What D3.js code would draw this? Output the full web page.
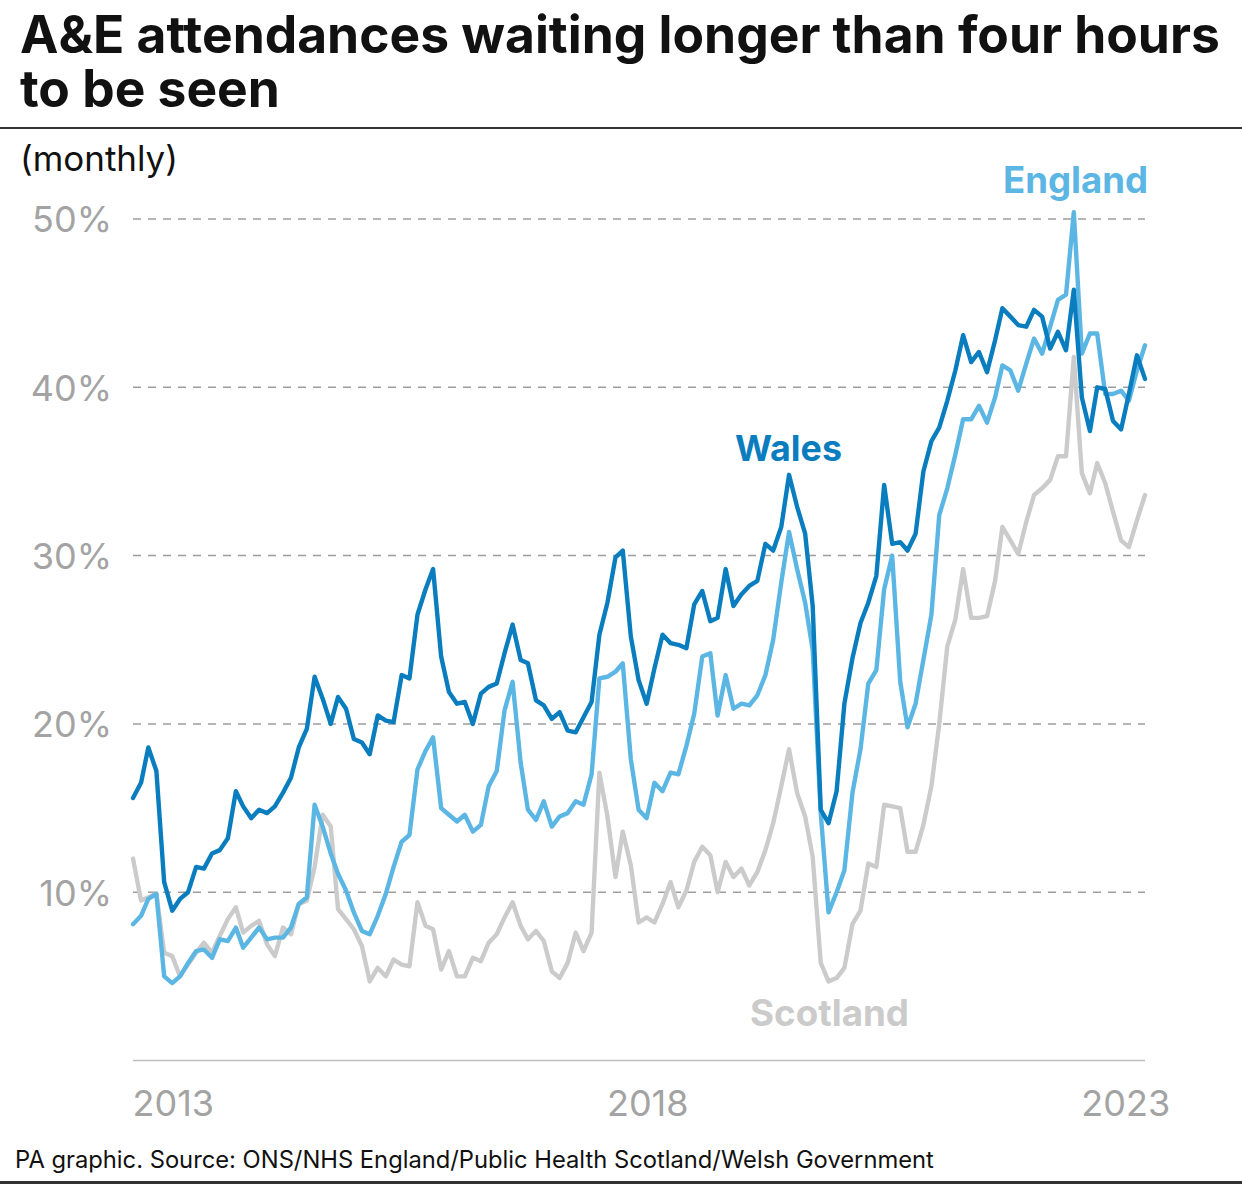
<!DOCTYPE html>
<html><head><meta charset="utf-8">
<script src="https://cdn.jsdelivr.net/npm/d3@7"></script>
<style>body{margin:0;background:#fff} svg{display:block}</style>
</head><body>
<svg id="c" width="1242" height="1188"></svg>
<script>
// Monthly series, Jan 2013 .. Sep 2023 (% of attendances waiting longer than four hours)
const startMonth = [2013, 0];
const wales = [
 15.6,16.5,18.6,17.2,10.6,8.9,9.6,10.0,11.5,11.4,12.3,12.5,
 13.2,16.0,15.1,14.4,14.9,14.7,15.1,15.9,16.8,18.6,19.7,22.8,
 21.5,20.0,21.6,20.9,19.1,18.9,18.2,20.5,20.2,20.1,22.9,22.7,
 26.5,28.0,29.2,24.0,21.9,21.2,21.3,20.0,21.8,22.2,22.4,24.2,
 25.9,23.8,23.6,21.4,21.1,20.3,20.7,19.6,19.5,20.4,21.3,25.3,
 27.2,29.9,30.3,25.2,22.6,21.2,23.3,25.3,24.8,24.7,24.5,27.1,
 27.9,26.1,26.3,29.2,27.0,27.7,28.2,28.5,30.7,30.3,31.7,34.8,
 32.9,31.3,27.0,14.9,14.1,16.0,21.2,23.9,26.0,27.2,28.8,34.2,
 30.7,30.8,30.3,31.3,35.0,36.8,37.6,39.2,41.0,43.1,41.5,42.1,
 40.9,42.8,44.7,44.2,43.7,43.6,44.6,44.2,42.3,43.3,42.2,45.8,
 39.4,37.4,40.0,39.9,38.0,37.5,39.6,41.9,40.5
];
const england = [
 8.1,8.6,9.6,9.9,5.0,4.6,5.0,5.8,6.5,6.6,6.1,7.2,
 7.1,7.9,6.7,7.3,7.9,7.2,7.3,7.3,7.9,9.3,9.7,15.2,
 13.9,12.3,11.1,10.1,8.8,7.7,7.5,8.6,9.9,11.5,13.0,13.4,
 17.3,18.4,19.2,15.0,14.6,14.2,14.6,13.6,14.0,16.3,17.2,20.8,
 22.5,17.7,14.9,14.3,15.4,13.9,14.5,14.7,15.4,15.2,17.0,22.7,
 22.8,23.1,23.6,17.9,14.9,14.4,16.5,16.0,17.1,17.0,18.7,20.6,
 24.0,24.2,20.5,22.9,20.9,21.2,21.1,21.7,22.9,25.0,28.4,31.4,
 29.2,27.2,24.4,14.7,8.8,10.0,11.3,15.9,18.5,22.4,23.2,28.0,
 30.0,22.5,19.8,21.2,23.8,26.5,32.4,34.0,36.0,38.1,38.1,38.9,
 37.9,39.4,41.3,41.0,39.8,41.4,42.9,42.0,43.6,45.2,45.5,50.4,
 42.0,43.2,43.2,39.6,39.6,39.8,39.2,41.0,42.5
];
const scotland = [
 12.0,9.5,9.7,9.9,6.4,6.2,5.0,5.7,6.4,7.0,6.4,7.4,
 8.4,9.1,7.6,8.0,8.3,6.9,6.2,7.9,7.5,9.3,9.5,11.5,
 14.6,13.9,9.0,8.4,7.8,6.8,4.7,5.5,5.0,6.0,5.7,5.6,
 9.4,8.0,7.8,5.4,6.5,5.0,5.0,6.1,5.9,7.0,7.5,8.5,
 9.4,8.0,7.2,7.7,7.1,5.3,4.9,5.8,7.6,6.5,7.6,17.1,
 14.5,10.9,13.6,11.6,8.2,8.5,8.2,9.3,10.6,9.1,10.1,11.8,
 12.7,12.2,10.0,11.8,10.9,11.4,10.4,11.2,12.5,14.1,16.3,18.5,
 15.9,14.5,12.1,5.8,4.7,4.9,5.5,8.1,8.9,11.7,11.5,15.2,
 15.1,15.0,12.4,12.4,14.0,16.3,20.0,24.6,26.2,29.2,26.3,26.3,
 26.4,28.5,31.7,30.9,30.1,32.0,33.6,34.0,34.5,35.9,35.9,41.8,
 34.9,33.7,35.5,34.3,32.6,30.9,30.5,32.1,33.6
];
const yTicks = [10, 20, 30, 40, 50];
const xTickYears = [2013, 2018, 2023];
const seriesNames = ["Scotland", "England", "Wales"];
const titleLines = ["A&E attendances waiting longer than four hours", "to be seen"];

const svg = d3.select("#c");
const FONT = "Inter, 'Noto Sans', sans-serif";
const colors = {Wales: "#0a7dbf", England: "#5cb6e4", Scotland: "#cbcbcb"};

const months = d3.range(wales.length).map(i => new Date(startMonth[0], startMonth[1] + i, 1));
const x = d3.scaleTime().domain([months[0], months[months.length - 1]]).range([133, 1145]);
const y = d3.scaleLinear().domain([0, 50]).range([1060.5, 219]);

function fit(sel, target) {
  const w = sel.node().getComputedTextLength();
  const fs = parseFloat(sel.attr("font-size"));
  sel.attr("font-size", (fs * target / w).toFixed(2));
}

// Title (one text element, two lines)
const title = svg.append("text").attr("font-family", FONT)
  .attr("font-weight", 700).attr("font-size", 50).attr("fill", "#111");
const l1 = title.append("tspan").attr("x", 20).attr("y", 53).text(titleLines[0]);
const w1 = l1.node().getComputedTextLength();
title.attr("font-size", (50 * 1200 / w1).toFixed(2));
title.append("tspan").attr("x", 20).attr("y", 107).text(titleLines[1]);

svg.append("rect").attr("x", 0).attr("y", 127).attr("width", 1242).attr("height", 2).attr("fill", "#333");
const sub = svg.append("text").attr("x", 20).attr("y", 171).attr("font-family", FONT)
  .attr("font-size", 34).attr("fill", "#111").text("(monthly)");
fit(sub, 158);

// Grid
const g = svg.append("g");
g.selectAll("line.grid").data(yTicks).join("line").attr("class", "grid")
  .attr("x1", 133).attr("x2", 1145).attr("y1", d => y(d)).attr("y2", d => y(d))
  .attr("stroke", "#9d9d9d").attr("stroke-width", 1.5).attr("stroke-dasharray", "8,7");

// Y axis labels
const yAxis = d3.axisLeft(y).tickValues(yTicks).tickSize(0).tickPadding(0).tickFormat(d => d + "%");
const ya = svg.append("g").attr("transform", "translate(112,0)").call(yAxis);
ya.select(".domain").remove();
ya.selectAll("text").attr("font-family", FONT).attr("font-size", 36).attr("fill", "#a3a3a3")
  .attr("dy", "0.36em");

// X axis
svg.append("line").attr("x1", 133).attr("x2", 1145).attr("y1", 1060.5).attr("y2", 1060.5)
  .attr("stroke", "#bdbdbd").attr("stroke-width", 1.5);
const xAxis = d3.axisBottom(x).tickValues(xTickYears.map(yr => new Date(yr, 0, 1)))
  .tickSize(0).tickPadding(0).tickFormat(d3.timeFormat("%Y"));
const xa = svg.append("g").attr("transform", "translate(-1,1116)").call(xAxis);
xa.select(".domain").remove();
xa.selectAll("text").attr("font-family", FONT).attr("font-size", 36).attr("fill", "#a3a3a3")
  .attr("text-anchor", "start").attr("dy", 0);

// Lines
const dataBy = {Wales: wales, England: england, Scotland: scotland};
const line = d3.line().x((d, i) => x(months[i])).y(d => y(d)).curve(d3.curveLinear);
seriesNames.forEach(name => {
  svg.append("path").datum(dataBy[name]).attr("d", line).attr("fill", "none")
    .attr("stroke", colors[name]).attr("stroke-width", 4.4)
    .attr("stroke-linejoin", "round").attr("stroke-linecap", "round");
});

// Series labels
function label(txt, xx, yy, anchor, w) {
  const s = svg.append("text").attr("x", xx).attr("y", yy).attr("text-anchor", anchor)
    .attr("font-family", FONT).attr("font-weight", 700).attr("font-size", 38)
    .attr("fill", colors[txt]).text(txt);
  fit(s, w);
}
label("England", 1148, 193, "end", 145);
label("Wales", 735, 461, "start", 107);
label("Scotland", 750, 1026, "start", 159);

// Footer
const f = svg.append("text").attr("x", 15).attr("y", 1168).attr("font-family", FONT)
  .attr("font-size", 24).attr("fill", "#111")
  .text("PA graphic. Source: ONS/NHS England/Public Health Scotland/Welsh Government");
fit(f, 919);
svg.append("rect").attr("x", 0).attr("y", 1181).attr("width", 1242).attr("height", 3).attr("fill", "#333");
</script>
</body></html>
